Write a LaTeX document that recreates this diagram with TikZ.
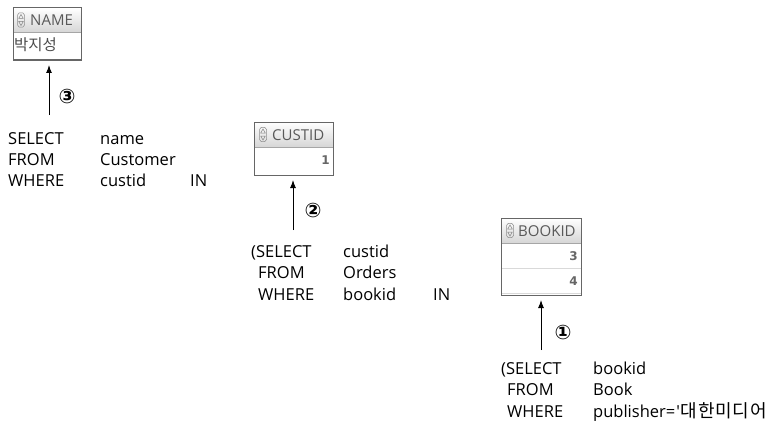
\documentclass[tikz,border=0pt]{standalone}
\usepackage{fontspec}
\setmainfont{Open Sans}
\newfontfamily\rawopen[Ligatures=TeXOff]{Open Sans}
\newfontfamily\krfont{Noto Sans CJK KR}
\newfontfamily\krspaced[LetterSpace=4]{Noto Sans CJK KR}
\newfontfamily\dvfont{DejaVu Sans}
\usetikzlibrary{arrows.meta,calc}
\tikzset{
  sql/.style={anchor=base west, inner sep=0pt, font=\fontsize{16.5}{18}\selectfont},
  tbl/.style={anchor=north west, inner sep=0pt, draw=black!60, line width=1pt},
  hdr/.style={anchor=west, inner sep=0pt, text=black!65, font=\fontsize{15}{16}\selectfont},
  cell/.style={anchor=east, inner sep=0pt, text=black!60, font=\dvfont\bfseries\fontsize{12}{13}\selectfont},
  arr/.style={-{Latex[length=8pt,width=6pt]}, line width=1pt, shorten >=4pt},
  num/.style={inner sep=0pt, font=\dvfont\bfseries\fontsize{20}{20}\selectfont},
  hshade/.style={top color=white, bottom color=black!16},
  sep/.style={draw=black!35, line width=0.8pt}
}
\newcommand{\sorticon}[1]{%
  \draw[black!45, line width=0.5pt, rounded corners=1.5pt] ($(#1)+(-3.5,-6.5)$) -- ($(#1)+(0,-7.5)$) -- ($(#1)+(3.5,-6.5)$) -- ($(#1)+(3.5,6.5)$) -- ($(#1)+(0,7.5)$) -- ($(#1)+(-3.5,6.5)$) -- cycle;
  \draw[black!50, line width=0.5pt] ($(#1)+(-2.3,-1.5)$) -- ($(#1)+(0,-5.5)$) -- ($(#1)+(2.3,-1.5)$) -- cycle;
  \draw[black!50, line width=0.5pt] ($(#1)+(-2.3,1.5)$) -- ($(#1)+(0,5.5)$) -- ($(#1)+(2.3,1.5)$) -- cycle;
}
\begin{document}
\begin{tikzpicture}[x=1pt,y=-1pt]
\useasboundingbox[fill=white] (0,0) rectangle (774,428);

% ---------- table NAME ----------
\node[tbl, minimum width=68pt, minimum height=52pt] (t1) at (13,8) {};
\shade[hshade] (13,8) rectangle (81,32);
\draw[sep] (13,32) -- (81,32);
\draw[black!60, line width=1pt] (13,8) rectangle (81,60);
\coordinate (i1) at (21,20);
\sorticon{i1}
\node[hdr] (h1) at (30,20.5) {NAME};
\node[anchor=west, inner sep=0pt, text=black!70, font=\krfont\fontsize{15.5}{16}\selectfont] (c1) at (14,45) {박지성};

% ---------- table CUSTID ----------
\node[tbl, minimum width=79pt, minimum height=53pt] (t2) at (254,122) {};
\shade[hshade] (254,122) rectangle (333,147);
\draw[sep] (254,147) -- (333,147);
\draw[black!60, line width=1pt] (254,122) rectangle (333,175);
\coordinate (i2) at (263,134.5);
\sorticon{i2}
\node[hdr] (h2) at (272,135) {CUSTID};
\node[cell] (c2) at (330,160) {1};

% ---------- table BOOKID ----------
\node[tbl, minimum width=80pt, minimum height=77pt] (t3) at (501,218) {};
\shade[hshade] (501,218) rectangle (581,243);
\draw[sep] (501,243) -- (581,243);
\draw[black!15, line width=0.8pt] (501,268) -- (581,268);
\draw[black!15, line width=0.8pt] (501,293) -- (581,293);
\draw[black!60, line width=1pt] (501,218) rectangle (581,295);
\coordinate (i3) at (510,230.5);
\sorticon{i3}
\node[hdr] (h3) at (518,231) {BOOKID};
\node[cell] (c3a) at (578,256) {3};
\node[cell] (c3b) at (578,281) {4};

% ---------- arrows ----------
\coordinate (s3) at (49,115);
\draw[arr] (s3) -- (s3 |- t1.south);
\node[num] (n3) at (67,96) {③};

\coordinate (s2) at (293,230);
\draw[arr] (s2) -- (s2 |- t2.south);
\node[num] (n2) at (313,210) {②};

\coordinate (s1) at (541,350);
\draw[arr] (s1) -- (s1 |- t3.south);
\node[num] (n1) at (563,332) {①};

% ---------- SQL block 1 ----------
\node[sql] (a1) at (8,144) {SELECT};
\node[sql] (a2) at (100,144) {name};
\node[sql] (a3) at (8,165) {FROM};
\node[sql] (a4) at (100,165) {Customer};
\node[sql] (a5) at (8,186) {WHERE};
\node[sql] (a6) at (100,186) {custid};
\node[sql] (a7) at (190,186) {IN};

% ---------- SQL block 2 ----------
\node[sql] (b1) at (251,257) {(SELECT};
\node[sql] (b2) at (343,257) {custid};
\node[sql] (b3) at (258,278) {FROM};
\node[sql] (b4) at (343,278) {Orders};
\node[sql] (b5) at (258,300) {WHERE};
\node[sql] (b6) at (343,300) {bookid};
\node[sql] (b7) at (433,300) {IN};

% ---------- SQL block 3 ----------
\node[sql] (d1) at (501,374) {(SELECT};
\node[sql] (d2) at (593,374) {bookid};
\node[sql] (d3) at (507,395) {FROM};
\node[sql] (d4) at (593,395) {Book};
\node[sql] (d5) at (507,417) {WHERE};
\node[sql] (d6) at (593,417) {publisher=\hspace{1pt}{\rawopen '}\hspace{1pt}{\krspaced\fontsize{18}{18}\selectfont 대한미디어}};
\end{tikzpicture}
\end{document}
